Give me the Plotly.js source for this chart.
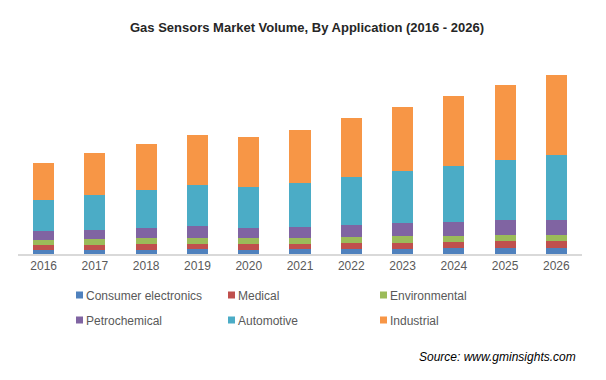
<!DOCTYPE html>
<html><head><meta charset="utf-8">
<script src="https://cdn.plot.ly/plotly-3.0.1.min.js"></script>
<style>html,body{margin:0;padding:0;background:#fff}#chart{width:606px;height:380px}</style>
</head><body><div id="chart"></div>
<script>
const years = ['2016','2017','2018','2019','2020','2021','2022','2023','2024','2025','2026'];
const consumerElectronics = [4,4,4,5,4,5,5,5,6,6,6];
const medical = [5,5,6,5,6,5,6,6,6,7,7];
const environmental = [5,6,6,6,6,6,6,7,6,6,6];
const petrochemical = [9,9,10,12,10,11,12,13,14,15,15];
const automotive = [31,35,38,41,41,44,48,52,56,60,65];
const industrial = [37,42,46,50,50,53,59,64,70,75,80];

const series = [
  {name:'Consumer electronics', y:consumerElectronics, color:'#4F81BD', legend:'legend'},
  {name:'Medical', y:medical, color:'#C0504D', legend:'legend'},
  {name:'Environmental', y:environmental, color:'#9BBB59', legend:'legend'},
  {name:'Petrochemical', y:petrochemical, color:'#8064A2', legend:'legend2'},
  {name:'Automotive', y:automotive, color:'#4BACC6', legend:'legend2'},
  {name:'Industrial', y:industrial, color:'#F79646', legend:'legend2'}
];
const traces = series.map(s => ({
  type:'bar', x:years, y:s.y, name:s.name, legend:s.legend,
  marker:{color:s.color, line:{width:0}}, hoverinfo:'x+y+name'
}));
const legFont = {family:'Liberation Sans, Arial, sans-serif', size:12, color:'#595959'};
const layout = {
  width:606, height:380,
  margin:{l:18, r:24, t:60, b:126},
  paper_bgcolor:'#fff', plot_bgcolor:'#fff',
  barmode:'stack', bargap:0.59,
  font:{family:'Liberation Sans, Arial, sans-serif'},
  title:{text:'<b>Gas Sensors Market Volume, By Application (2016 - 2026)</b>',
    font:{family:'Liberation Sans, Arial, sans-serif', size:13, color:'#262626'},
    x:0.5066, xref:'container', xanchor:'center', y:1-27/380, yref:'container', yanchor:'middle'},
  xaxis:{type:'category', showline:true, linecolor:'#d9d9d9', linewidth:2, ticks:'',
    tickfont:{family:'Liberation Sans, Arial, sans-serif', size:12, color:'#595959'}, fixedrange:true},
  yaxis:{range:[0,194], visible:false, showgrid:false, zeroline:false, fixedrange:true},
  legend:{orientation:'h', xref:'container', yref:'container', x:46/606, y:1-295/380, yanchor:'middle', xanchor:'left',
    entrywidth:107, font:legFont, traceorder:'normal', bgcolor:'rgba(0,0,0,0)'},
  legend2:{orientation:'h', xref:'container', yref:'container', x:46/606, y:1-320/380, yanchor:'middle', xanchor:'left',
    entrywidth:107, font:legFont, traceorder:'normal', bgcolor:'rgba(0,0,0,0)'},
  annotations:[{text:'<i>Source: www.gminsights.com</i>', xref:'paper', yref:'paper',
    x:(578-18)/564, y:(254-357)/194, xanchor:'right', yanchor:'middle', showarrow:false,
    font:{family:'Liberation Sans, Arial, sans-serif', size:12, color:'#000'}}]
};
Plotly.newPlot('chart', traces, layout, {displayModeBar:false, staticPlot:true}).then(gd => {
  gd.querySelectorAll('.legendpoints path').forEach(p => {
    p.setAttribute('d', 'M3.5,3.5H-3.5V-3.5H3.5Z');
    p.setAttribute('transform', 'translate(33.5,0)');
  });
});
</script></body></html>
